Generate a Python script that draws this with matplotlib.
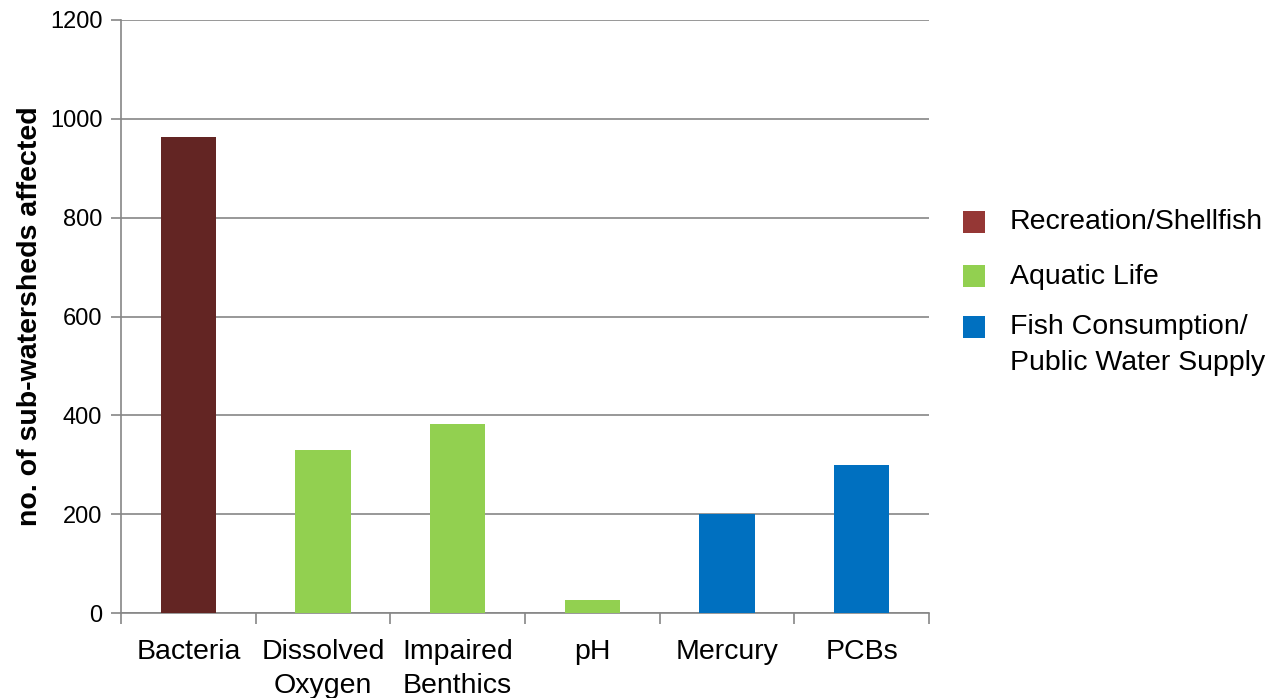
import matplotlib
matplotlib.use("Agg")
import matplotlib.pyplot as plt
from matplotlib.patches import Rectangle

categories = ["Bacteria", "Dissolved\nOxygen", "Impaired\nBenthics", "pH", "Mercury", "PCBs"]
values = [963, 330, 382, 26, 200, 300]
bar_colors = ["#632523", "#92D050", "#92D050", "#92D050", "#0070C0", "#0070C0"]
legend_labels = ["Recreation/Shellfish", "Aquatic Life", "Fish Consumption/\nPublic Water Supply"]
legend_colors = ["#953735", "#92D050", "#0070C0"]
yticks = [0, 200, 400, 600, 800, 1000, 1200]

plt.rcParams['font.family'] = ['Liberation Sans', 'DejaVu Sans']

fig = plt.figure(figsize=(12.87, 6.98), dpi=100)
ax = fig.add_axes([121/1287, 1 - 613/698, (929-121)/1287, (613-20)/698])

x = list(range(len(categories)))
ax.bar(x, values, width=0.41, color=bar_colors, zorder=3)

ax.set_xlim(-0.5, len(categories) - 0.5)
ax.set_ylim(0, 1200)
ax.set_yticks(yticks)
ax.set_yticklabels([str(t) for t in yticks], fontsize=17)
ax.yaxis.grid(True, color="#868686", linewidth=1.2, zorder=0)
ax.tick_params(axis="y", length=7, width=1.2, color="#868686", pad=6.5)

ax.set_xticks(x)
ax.set_xticklabels(categories, fontsize=20.5, linespacing=1.37)
ax.tick_params(axis="x", length=0, pad=19)
ax.set_xticks([i - 0.5 for i in range(len(categories) + 1)], minor=True)
ax.tick_params(axis="x", which="minor", length=8, width=1.2, color="#868686")

for s in ["top", "right"]:
    ax.spines[s].set_visible(False)
for s in ["left", "bottom"]:
    ax.spines[s].set_color("#868686")
    ax.spines[s].set_linewidth(1.2)

ax.set_ylabel("no. of sub-watersheds affected", fontsize=20.5, fontweight="bold", labelpad=4.5)

# legend drawn manually
ys = [222, 276, 327]
for lab, col, yy in zip(legend_labels, legend_colors, ys):
    fig.patches.append(Rectangle((963/1287, 1 - (yy + 11)/698), 22/1287, 22/698,
                                 transform=fig.transFigure, facecolor=col, edgecolor="none"))
    for i, line in enumerate(lab.split("\n")):
        fig.text(1010/1287, 1 - (yy + 7.5 + 35 * i)/698, line, fontsize=20.5,
                 va="baseline", ha="left")

fig.savefig("out.png", dpi=100)
